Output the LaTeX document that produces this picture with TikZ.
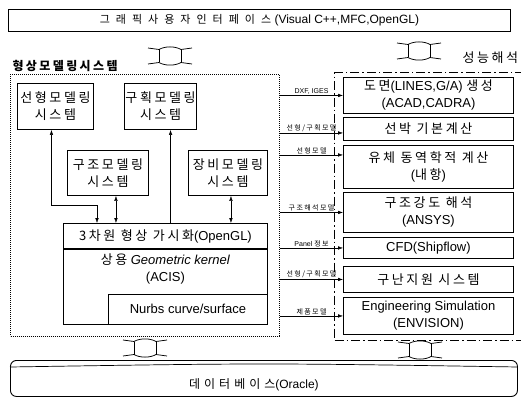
\documentclass[tikz,border=0pt]{standalone}
\usepackage{fontspec}
\setmainfont{Liberation Sans}
\newfontfamily\krfont{Noto Sans CJK KR}[LetterSpace=20]
\newcommand{\ko}[1]{{\krfont #1}}
\usepackage{tikz}
\usetikzlibrary{positioning, arrows.meta, calc}

\begin{document}
\begin{tikzpicture}[x=1pt, y=-1pt, >={Latex[length=5pt,width=3.5pt]}, font=\fontsize{13}{17}\selectfont,
  box/.style={draw, line width=0.9pt, anchor=north west, align=center, inner sep=1pt},
  tool/.style={box, minimum width=170pt},
  tag/.style={font=\fontsize{7}{8}\selectfont, above, inner sep=1pt},
  updown/.pic={
    \draw[line width=0.75pt] (-22,-8) -- (-11,-6.5) .. controls (-5,-10) and (5,-10) .. (11,-6.5) -- (22,-8);
    \draw[line width=0.75pt] (-22,8) -- (-11,6.5) .. controls (-5,10) and (5,10) .. (11,6.5) -- (22,8);
    \draw[line width=0.75pt] (-11,-6.5) -- (-11,6.5) (11,-6.5) -- (11,6.5);
  }]
  \useasboundingbox (0,0) rectangle (521,398);

  % interface and database
  \node[box, minimum width=502pt, minimum height=22pt, font=\fontsize{12}{14}\selectfont] (gui) at (8,9)
    {{\krfont\fontsize{11}{14}\selectfont\spaceskip=6pt 그 래 픽 사 용 자 인 터 페 이 스} (Visual C++,MFC,OpenGL)};
  \node[box, rounded corners=6pt, minimum width=507pt, minimum height=36pt] (db) at (10,360) {};
  \draw[line width=0.7pt] ([yshift=-7pt]db.north west) .. controls ([yshift=-3pt]db.north) .. ([yshift=-7pt]db.north east);
  \node[font=\fontsize{12}{14}\selectfont] (dbtext) at ($(db.center)+(-10,6)$) {{\krfont\spaceskip=4pt 데 이 터 베 이 스}(Oracle)};

  \pic at (170,56) {updown};
  \pic at (419,51) {updown};
  \pic at (145,348) {updown};
  \pic at (420,350) {updown};

  % shape modelling
  \node[box, line width=1pt, dash pattern=on 0.8pt off 1.2pt, minimum width=269pt, minimum height=262pt] (shape) at (10,74) {};
  \node[anchor=west, font=\krfont\fontsize{12}{15}\selectfont\bfseries] (shapelabel) at (9,66) {형상모델링시스템};
  \node[box, minimum width=76pt, minimum height=46pt] (m1) at (17,83) {\ko{선형모델링}\\\ko{시스템}};
  \node[box, minimum width=69pt, minimum height=46pt] (m2) at (124,83) {\ko{구획모델링}\\\ko{시스템}};
  \node[box, minimum width=81pt, minimum height=45pt] (m3) at (67,150) {\ko{구조모델링}\\\ko{시스템}};
  \node[box, minimum width=79pt, minimum height=45pt] (m4) at (188,150) {\ko{장비모델링}\\\ko{시스템}};
  \node[box, minimum width=204pt, minimum height=25pt] (vis) at (63,223) {\ko{3차원 형상 가시화}(OpenGL)};
  \node[box, minimum width=204pt, minimum height=75pt] (gk) at (vis.south west) {};
  \node[below=1pt of gk.north, align=center] (acis) {\ko{상용} \textit{Geometric kernel}\\(ACIS)};
  \node[box, anchor=south east, minimum width=159pt, minimum height=30pt] (nurbs) at (gk.south east) {Nurbs curve/surface};

  \draw[<->] ([xshift=-4pt]m1.south) -- ++(0,75) -| ([xshift=34pt]vis.north west);
  \draw[<->] ([xshift=8pt]m3.south) -- ([xshift=8pt]m3.south |- vis.north);
  \draw[<-] ([xshift=10pt]m2.south) -- ([xshift=10pt]m2.south |- vis.north);
  \draw[<->] ([xshift=3pt]m4.south) -- ([xshift=3pt]m4.south |- vis.north);

  % performance analysis
  \node[box, line width=1.1pt, dash pattern=on 9pt off 3pt on 1.5pt off 3pt, minimum width=200pt, minimum height=268pt] (perf) at (334,72) {};
  \node[anchor=west] (perflabel) at (459,58) {\ko{성능해석}};
  \node[tool, minimum height=36pt] (r1) at (343,77) {\ko{도면}(LINES,G/A) \ko{생성}\\(ACAD,CADRA)};
  \node[tool, minimum height=23pt] (r2) at (343,117) {\ko{선박 기본계산}};
  \node[tool, minimum height=43pt] (r3) at (343,145) {\ko{유체 동역학적 계산}\\(\ko{내항})};
  \node[tool, minimum height=40pt] (r4) at (343,192) {\ko{구조강도 해석}\\(ANSYS)};
  \node[tool, minimum height=21pt] (r5) at (343,237) {CFD(Shipflow)};
  \node[tool, minimum height=26pt] (r6) at (343,266) {\ko{구난지원 시스템}};
  \node[tool, minimum height=37pt] (r7) at (343,297) {Engineering Simulation\\(ENVISION)};

  % data passed on
  \coordinate (a2) at ([yshift=-4pt]r2.west);
  \coordinate (a3) at ([yshift=12pt]r3.west);
  \draw[->] (shape.east |- r1.west) -- (r1.west) node[tag, midway] {DXF, IGES};
  \draw[->] (shape.east |- a2) -- (a2) node[tag, midway] {\ko{선형/구획모델}};
  \draw[->] (shape.east |- a3) -- (a3) node[tag, midway] {\ko{선형모델}};
  \draw[->] (shape.east |- r4.west) -- (r4.west) node[tag, midway] {\ko{구조해석모델}};
  \draw[->] (shape.east |- r5.west) -- (r5.west) node[tag, midway] {Panel \ko{정보}};
  \draw[->] (shape.east |- r6.west) -- (r6.west) node[tag, midway] {\ko{선형/구획모델}};
  \draw[->] (shape.east |- r7.west) -- (r7.west) node[tag, midway] {\ko{제품모델}};
\end{tikzpicture}
\end{document}
